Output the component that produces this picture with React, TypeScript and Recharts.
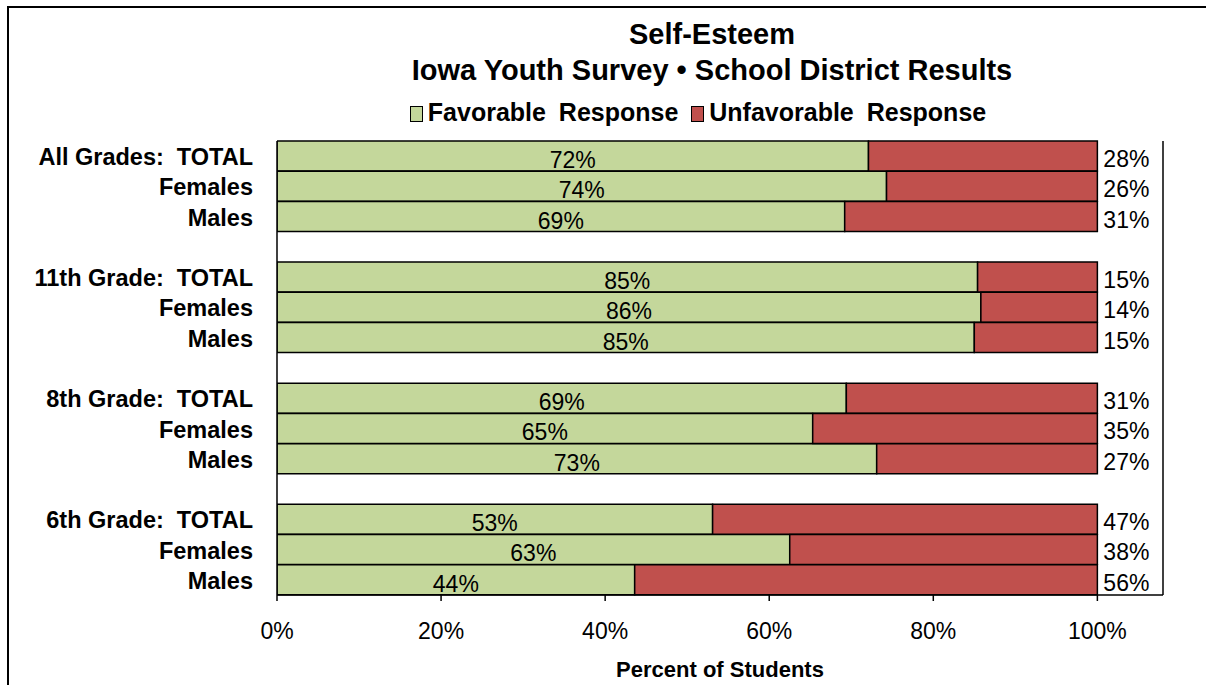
import React from "react";
import { Bar, BarChart, LabelList, XAxis, YAxis } from "recharts";

const rowLabels = [
  "All Grades:  TOTAL",
  "Females",
  "Males",
  "",
  "11th Grade:  TOTAL",
  "Females",
  "Males",
  "",
  "8th Grade:  TOTAL",
  "Females",
  "Males",
  "",
  "6th Grade:  TOTAL",
  "Females",
  "Males",
];
const favorable = [72.1, 74.3, 69.2, null, 85.4, 85.8, 85.0, null, 69.4, 65.3, 73.1, null, 53.1, 62.5, 43.6];
const unfavorable = [27.9, 25.7, 30.8, null, 14.6, 14.2, 15.0, null, 30.6, 34.7, 26.9, null, 46.9, 37.5, 56.4];
const xTicks = [0, 20, 40, 60, 80, 100];

const GREEN = "#C4D79B";
const RED = "#C0504D";
const FONT = "'Liberation Sans', Arial, sans-serif";

const data = rowLabels.map((label, i) => ({
  id: i,
  label,
  fav: favorable[i],
  unfav: unfavorable[i],
}));

const pct = (v: any) => (v == null ? "" : `${Math.round(Number(v))}%`);

const RowTick = (props: any) => {
  const { x, y, payload } = props;
  return (
    <text
      x={x}
      y={y + 1}
      textAnchor="end"
      dominantBaseline="central"
      fontFamily={FONT}
      fontSize={23.5}
      fontWeight="bold"
      fill="#000"
      style={{ whiteSpace: "pre" }}
    >
      {rowLabels[payload.value]}
    </text>
  );
};

const UnfavLabel = (props: any) => {
  const { x, y, width, height, value } = props;
  if (value == null) return null;
  return (
    <text
      x={x + width + 6}
      y={y + height / 2 + 3}
      dominantBaseline="central"
      fontFamily={FONT}
      fontSize={23}
      fill="#000"
    >
      {pct(value)}
    </text>
  );
};

const FavLabel = (props: any) => {
  const { x, y, width, height, value } = props;
  if (value == null) return null;
  return (
    <text
      x={x + width / 2}
      y={y + height / 2 + 4}
      textAnchor="middle"
      dominantBaseline="central"
      fontFamily={FONT}
      fontSize={23}
      fill="#000"
    >
      {pct(value)}
    </text>
  );
};

const AxisTitle = (props: any) => {
  const { viewBox } = props;
  return (
    <text
      x={viewBox.x + viewBox.width / 2}
      y={viewBox.y + 82}
      textAnchor="middle"
      fontFamily={FONT}
      fontSize={22}
      fontWeight="bold"
      fill="#000"
    >
      Percent of Students
    </text>
  );
};

const swatch = (color: string) => ({
  display: "inline-block",
  width: 11,
  height: 14,
  background: color,
  border: "1.5px solid #000",
  marginRight: 5,
  verticalAlign: "-1px",
});

export default function App() {
  return (
    <div
      style={{
        position: "absolute",
        left: 0,
        top: 0,
        width: 1206,
        height: 685,
        overflow: "hidden",
        background: "#fff",
        fontFamily: FONT,
      }}
    >
      <div
        style={{
          position: "absolute",
          left: 7,
          top: 6,
          width: 1400,
          height: 900,
          border: "2px solid #000",
        }}
      />
      <div
        style={{
          position: "absolute",
          left: 212,
          top: 16,
          width: 1000,
          textAlign: "center",
          fontSize: 29,
          fontWeight: "bold",
          lineHeight: "36px",
          color: "#000",
        }}
      >
        <div>Self-Esteem</div>
        <div>Iowa Youth Survey • School District Results</div>
      </div>
      <div
        style={{
          position: "absolute",
          left: 198,
          top: 98,
          width: 1000,
          textAlign: "center",
          fontSize: 25,
          fontWeight: "bold",
          color: "#000",
          wordSpacing: 6,
        }}
      >
        <span style={swatch(GREEN)} />
        Favorable Response{" "}
        <span style={swatch(RED)} />
        Unfavorable Response
      </div>
      <div style={{ position: "absolute", left: 0, top: 0 }}>
        <BarChart
          width={1206}
          height={685}
          data={data}
          layout="vertical"
          barCategoryGap={0}
          margin={{ top: 141, right: 42, bottom: 0, left: 0 }}
        >
          <XAxis
            type="number"
            domain={[0, 108]}
            ticks={xTicks}
            tickFormatter={pct}
            allowDataOverflow
            height={90}
            stroke="#000"
            strokeWidth={1.5}
            tickSize={6}
            tickMargin={22}
            tick={{ fill: "#000", fontSize: 23, fontFamily: FONT }}
            label={<AxisTitle />}
          />
          <XAxis
            xAxisId="top"
            orientation="top"
            type="number"
            domain={[0, 108]}
            height={0}
            tick={false}
            tickLine={false}
            stroke="#000"
            strokeWidth={1.5}
          />
          <YAxis
            type="category"
            dataKey="id"
            width={277}
            tickSize={0}
            tickMargin={24}
            tick={<RowTick />}
            interval={0}
            stroke="#000"
            strokeWidth={1.5}
          />
          <YAxis
            yAxisId="right"
            orientation="right"
            type="category"
            dataKey="id"
            width={1}
            tick={false}
            tickLine={false}
            stroke="#000"
            strokeWidth={1.5}
          />
          <Bar dataKey="fav" stackId="a" fill={GREEN} stroke="#000" strokeWidth={1.5} isAnimationActive={false}>
            <LabelList dataKey="fav" content={<FavLabel />} />
          </Bar>
          <Bar dataKey="unfav" stackId="a" fill={RED} stroke="#000" strokeWidth={1.5} isAnimationActive={false}>
            <LabelList dataKey="unfav" content={<UnfavLabel />} />
          </Bar>
        </BarChart>
      </div>
    </div>
  );
}
